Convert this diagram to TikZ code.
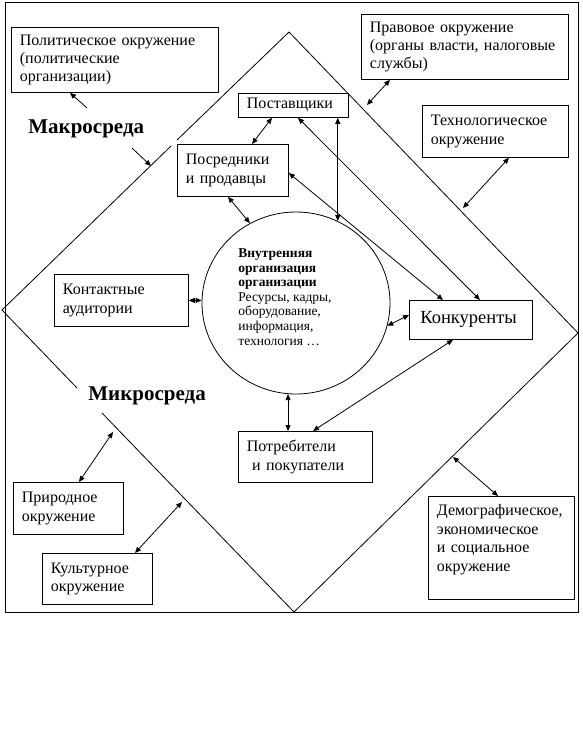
\documentclass[tikz,border=0pt]{standalone}
\usepackage{fontspec}
\setmainfont{Liberation Serif}
\usetikzlibrary{arrows.meta,shapes.geometric}

\begin{document}
\begin{tikzpicture}[x=1pt, y=-1pt, line width=0.8pt,
    >={Triangle[length=6pt,width=5pt]},
    box/.style={draw, fill=white, anchor=north west, align=left,
      inner xsep=8.5pt, inner ysep=0pt,
      font=\fontsize{16}{18.4}\selectfont},
    envlabel/.style={anchor=base west, inner sep=0pt,
      font=\fontsize{21}{24}\selectfont\bfseries}]
  \useasboundingbox (0,0) rectangle (583,731);
  % frame and diamond
  \draw (5,2) rectangle (578,612);
  \coordinate (dmT) at (289,32);
  \coordinate (dmL) at (2,310);
  \coordinate (dmR) at (578,333);
  \coordinate (dmB) at (294,612);
  \draw (dmT) -- (177,140) (171,146) -- (dmL) -- (77,388)
    (102,413) -- (dmB) -- (dmR) -- (dmT);
  \node[envlabel] (macro) at (28,133) {Макросреда};
  \node[envlabel] (micro) at (88,400) {Микросреда};
  % boxes
  \node[box, minimum width=207pt, minimum height=65pt, text width=190pt]
    (polit) at (11,27) {Политическое окружение\\(политические\\организации)};
  \node[box, minimum width=207pt, minimum height=65pt, text width=190pt]
    (legal) at (361,14) {Правовое окружение\\\mbox{(органы власти, налоговые}\\службы)};
  \node[box, minimum width=146pt, minimum height=52pt, text width=129pt]
    (tech) at (422,105) {Технологическое\\окружение};
  \node[box, minimum width=110pt, minimum height=24pt, text width=93pt]
    (supp) at (238,93) {Поставщики};
  \node[box, minimum width=111pt, minimum height=52pt, text width=94pt]
    (broker) at (177,144) {Посредники\\и продавцы};
  \node[box, minimum width=134pt, minimum height=52pt, text width=117pt]
    (contact) at (54,274) {Контактные\\аудитории};
  \node[box, minimum width=123pt, minimum height=39pt, text width=101pt,
    inner xsep=11pt, font=\fontsize{18.5}{22}\selectfont]
    (comp) at (409,300) {Конкуренты};
  \node[box, minimum width=134pt, minimum height=51pt, text width=117pt]
    (cust) at (238,431) {Потребители\\\ и покупатели};
  \node[box, minimum width=110pt, minimum height=52pt, text width=93pt]
    (nature) at (13,482) {Природное\\окружение};
  \node[box, minimum width=110pt, minimum height=51pt, text width=93pt]
    (culture) at (42,553) {Культурное\\окружение};
  \node[box, minimum width=146pt, minimum height=103pt, text width=129pt]
    (demo) at (428,496) {Демографическое,\\экономическое\\и социальное\\окружение\rule[-20pt]{0pt}{20pt}};
  % organisation
  \node[draw, ellipse, minimum width=188pt, minimum height=182pt, inner sep=0pt]
    (org) at (296,303) {};
  \node[anchor=west, align=left, inner sep=0pt,
    font=\fontsize{13.5}{14.6}\selectfont]
    (orgtext) at (238,297) {\textbf{Внутренняя}\\\textbf{организация}\\\textbf{организации}\\
      Ресурсы, кадры,\\оборудование,\\информация,\\технология …};
  % points on the diamond
  \coordinate (politTail) at (87,108);
  \coordinate (macroTail) at (132,148);
  \coordinate (dmMacro) at (151,166);
  \coordinate (dmLegal) at (367,105);
  \coordinate (dmTech) at (463,208);
  \coordinate (dmNature) at (113,432);
  \coordinate (dmCulture) at (182,502);
  \coordinate (dmDemo) at (453,457);
  % links
  \draw[->] (politTail) -- (polit.south -| 70,0);
  \draw[->] (macroTail) -- (dmMacro);
  \path[<->]
    (legal.south -| 390,0) edge (dmLegal)
    (tech.south -| 509,0) edge (dmTech)
    (supp.south -| 272,0) edge (broker.north -| 252,0)
    (supp.south -| 298,0) edge (comp.north -| 480,0)
    (broker.east |- 0,173) edge (comp.north -| 443,0)
    (supp.south -| org.63) edge (org.63)
    (broker.south -| 228,0) edge (org.120)
    (contact.east) edge (contact.east -| org.west)
    (org.346) edge (comp.west |- 0,315)
    (org.265) edge (org.265 |- cust.north)
    (comp.south -| 453,0) edge (cust.north -| 313,0)
    (nature.north -| 79,0) edge (dmNature)
    (culture.north -| 135,0) edge (dmCulture)
    (demo.north -| 498,0) edge (dmDemo);
\end{tikzpicture}
\end{document}
